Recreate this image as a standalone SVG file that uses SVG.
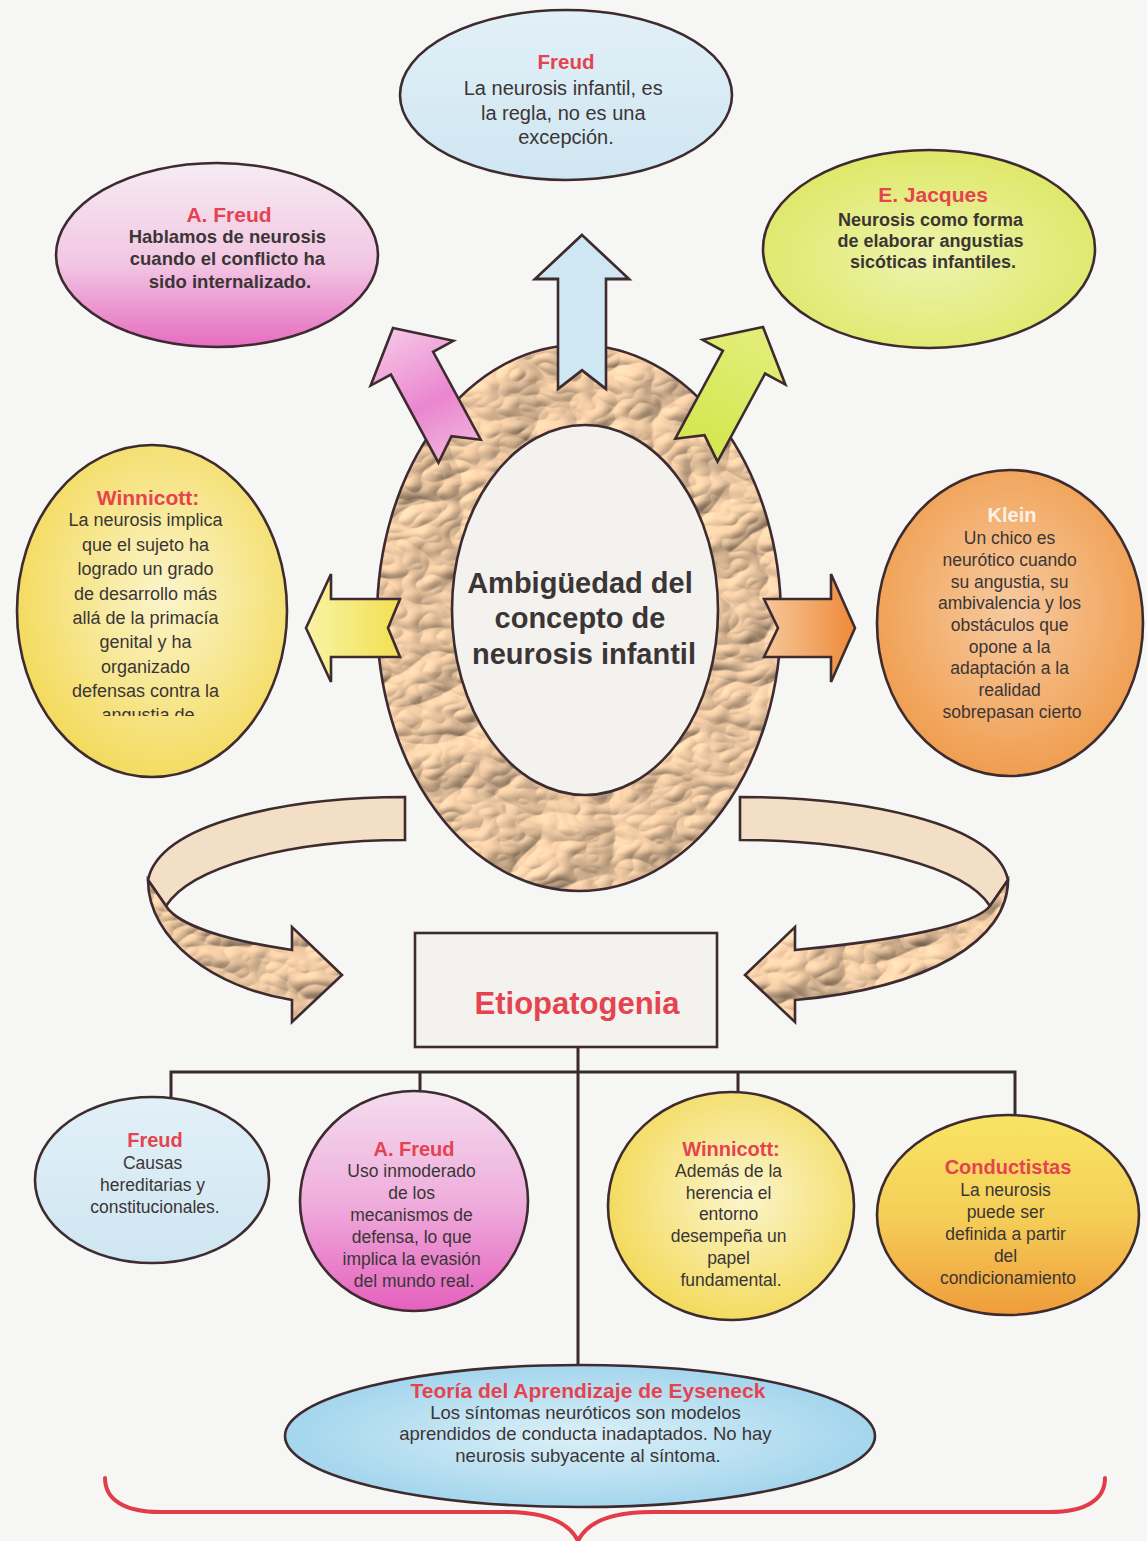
<svg xmlns="http://www.w3.org/2000/svg" width="1147" height="1541" viewBox="0 0 1147 1541">
  <style>
    .ol { stroke: #3d2b30; stroke-width: 2.6; }
    .t { font-family: "Liberation Sans", Arial, sans-serif; text-anchor: middle; fill: #3b3536; }
    .b { font-weight: bold; }
    .ttl { font-family: "Liberation Sans", Arial, sans-serif; text-anchor: middle; font-weight: bold; fill: #e5434f; }
    .wire { stroke: #3a2a2c; stroke-width: 3; fill: none; }
  </style>
  <defs>
    <!-- crumpled paper texture -->
    <filter id="paper" x="-5%" y="-5%" width="110%" height="110%" color-interpolation-filters="sRGB">
      <feTurbulence type="turbulence" baseFrequency="0.013 0.019" numOctaves="3" seed="11" result="noise"/>
      <feDiffuseLighting in="noise" surfaceScale="5.5" diffuseConstant="1.16" lighting-color="#efcaa4" result="lit">
        <feDistantLight azimuth="225" elevation="56"/>
      </feDiffuseLighting>
      <feComposite in="lit" in2="SourceAlpha" operator="in"/>
    </filter>
    <linearGradient id="gBlue" x1="0" y1="0" x2="0" y2="1">
      <stop offset="0" stop-color="#e2f0f7"/><stop offset="1" stop-color="#cfe6f2"/>
    </linearGradient>
    <linearGradient id="gPink" x1="0" y1="0" x2="0" y2="1">
      <stop offset="0" stop-color="#f6ecf3"/><stop offset="0.55" stop-color="#f2c6e3"/><stop offset="1" stop-color="#e66cc0"/>
    </linearGradient>
    <linearGradient id="gPink2" x1="0" y1="0" x2="0" y2="1">
      <stop offset="0" stop-color="#f4dcee"/><stop offset="0.5" stop-color="#efaedd"/><stop offset="1" stop-color="#e560bd"/>
    </linearGradient>
    <radialGradient id="gLime" cx="0.5" cy="0.55" r="0.6">
      <stop offset="0" stop-color="#eef3ac"/><stop offset="1" stop-color="#dde762"/>
    </radialGradient>
    <radialGradient id="gYellow" cx="0.55" cy="0.45" r="0.6">
      <stop offset="0" stop-color="#fbf5cc"/><stop offset="1" stop-color="#f3d957"/>
    </radialGradient>
    <radialGradient id="gOrange" cx="0.5" cy="0.45" r="0.6">
      <stop offset="0" stop-color="#f7caa0"/><stop offset="1" stop-color="#ef9a48"/>
    </radialGradient>
    <linearGradient id="gCond" x1="0" y1="0" x2="0" y2="1">
      <stop offset="0" stop-color="#f8e465"/><stop offset="0.5" stop-color="#f5cf58"/><stop offset="1" stop-color="#ef9c3a"/>
    </linearGradient>
    <radialGradient id="gSky" cx="0.5" cy="0.5" r="0.55">
      <stop offset="0" stop-color="#dcf0f8"/><stop offset="1" stop-color="#9ed3ec"/>
    </radialGradient>
    <linearGradient id="aPink" x1="0" y1="0" x2="0" y2="1">
      <stop offset="0" stop-color="#f5c6e6"/><stop offset="0.6" stop-color="#ea86cf"/><stop offset="1" stop-color="#f0b0dc"/>
    </linearGradient>
    <linearGradient id="aLime" x1="0" y1="0" x2="0" y2="1">
      <stop offset="0" stop-color="#e3ee7a"/><stop offset="1" stop-color="#d3e64e"/>
    </linearGradient>
    <linearGradient id="aYellow" x1="0" y1="0" x2="1" y2="0">
      <stop offset="0" stop-color="#f8f3a4"/><stop offset="1" stop-color="#f2e052"/>
    </linearGradient>
    <linearGradient id="aOrange" x1="0" y1="0" x2="1" y2="0">
      <stop offset="0" stop-color="#f6c79a"/><stop offset="1" stop-color="#ee8a38"/>
    </linearGradient>
    <path id="upArrow" d="M0,0 L47,40 L24,40 L24,140 L0,123 L-24,140 L-24,40 L-47,40 Z"/>
    <clipPath id="winClip"><rect x="0" y="440" width="300" height="276"/></clipPath>
  </defs>

  <rect width="1147" height="1541" fill="#f6f6f4"/>

  <!-- looping ribbon arrows behind the central ring -->
  <g id="loop-left">
    <path class="ol" fill="#f2dfc6" d="M405,797 C290,797 160,822 148,880 L166,906 C190,868 285,840 405,840 Z"/>
    <path fill="#000" filter="url(#paper)" d="M148,880 C148,940 215,988 292,1000 L292,1022 L342,975 L292,927 L292,950 C225,940 178,925 166,906 Z"/>
    <path class="ol" fill="none" d="M148,880 C148,940 215,988 292,1000 L292,1022 L342,975 L292,927 L292,950 C225,940 178,925 166,906 Z"/>
  </g>
  <g id="loop-right">
    <path class="ol" fill="#f2dfc6" d="M740,797 C860,797 996,822 1008,880 L990,906 C966,868 865,840 740,840 Z"/>
    <path fill="#000" filter="url(#paper)" d="M1008,880 C1008,940 930,988 795,1000 L795,1022 L745,975 L795,927 L795,950 C900,940 975,925 990,906 Z"/>
    <path class="ol" fill="none" d="M1008,880 C1008,940 930,988 795,1000 L795,1022 L745,975 L795,927 L795,950 C900,940 975,925 990,906 Z"/>
  </g>

  <!-- central ring -->
  <g id="center">
    <ellipse cx="579" cy="618" rx="202" ry="273" fill="#000" filter="url(#paper)"/>
    <ellipse class="ol" cx="579" cy="618" rx="202" ry="273" fill="none" stroke-width="3"/>
    <ellipse class="ol" cx="585" cy="610" rx="133" ry="185" fill="#f4f2ee" stroke-width="3"/>
    <text class="t b" font-size="29" fill="#3c3032">
      <tspan x="584" y="593">Ambigüedad del</tspan>
      <tspan x="584" y="628">concepto de</tspan>
      <tspan x="584" y="664">neurosis infantil</tspan>
    </text>
  </g>

  <!-- radiating arrows -->
  <g id="arrows">
    <use href="#upArrow" class="ol" fill="url(#aPink)" transform="translate(393,328) rotate(-28.4)"/>
    <use href="#upArrow" class="ol" fill="#cfe7f3" transform="translate(582,235) scale(1,1.1)"/>
    <use href="#upArrow" class="ol" fill="url(#aLime)" transform="translate(763,327) rotate(28.4)"/>
    <path class="ol" fill="url(#aYellow)" d="M306,628 L331,574 L331,599 L400,599 L388,628 L400,657 L331,657 L331,682 Z"/>
    <path class="ol" fill="url(#aOrange)" d="M855,628 L831,574 L831,599 L764,599 L778,628 L764,657 L831,657 L831,682 Z"/>
  </g>

  <!-- upper ring of authors -->
  <g id="freud-top">
    <ellipse class="ol" cx="566" cy="95" rx="166" ry="85" fill="url(#gBlue)"/>
    <text class="ttl" font-size="20.5" x="566" y="69">Freud</text>
    <text class="t" font-size="20">
      <tspan x="566" y="95">La neurosis infantil, es</tspan>
      <tspan x="566" y="120">la regla, no es una</tspan>
      <tspan x="566" y="144">excepción.</tspan>
    </text>
  </g>

  <g id="afreud-top">
    <ellipse class="ol" cx="217" cy="255" rx="161" ry="92" fill="url(#gPink)"/>
    <text class="ttl" font-size="21" x="229" y="222">A. Freud</text>
    <text class="t b" font-size="18.5" fill="#3d2f36">
      <tspan x="230" y="243">Hablamos de neurosis</tspan>
      <tspan x="230" y="265">cuando el conflicto ha</tspan>
      <tspan x="230" y="288">sido internalizado.</tspan>
    </text>
  </g>

  <g id="jacques">
    <ellipse class="ol" cx="929" cy="249" rx="166" ry="99" fill="url(#gLime)"/>
    <text class="ttl" font-size="21" x="933" y="202">E. Jacques</text>
    <text class="t b" font-size="18" fill="#3d3530">
      <tspan x="933" y="226">Neurosis como forma</tspan>
      <tspan x="933" y="247">de elaborar angustias</tspan>
      <tspan x="933" y="268">sicóticas infantiles.</tspan>
    </text>
  </g>

  <g id="winnicott-left">
    <ellipse class="ol" cx="152" cy="611" rx="135" ry="166" fill="url(#gYellow)"/>
    <text class="ttl" font-size="21" x="148" y="505">Winnicott:</text>
    <g clip-path="url(#winClip)">
      <text class="t" font-size="18">
        <tspan x="148" y="526">La neurosis implica</tspan>
        <tspan x="148" y="551">que el sujeto ha</tspan>
        <tspan x="148" y="575">logrado un grado</tspan>
        <tspan x="148" y="600">de desarrollo más</tspan>
        <tspan x="148" y="624">allá de la primacía</tspan>
        <tspan x="148" y="648">genital y ha</tspan>
        <tspan x="148" y="673">organizado</tspan>
        <tspan x="148" y="697">defensas contra la</tspan>
        <tspan x="148" y="721">angustia de</tspan>
      </text>
    </g>
  </g>

  <g id="klein">
    <ellipse class="ol" cx="1010" cy="623" rx="133" ry="153" fill="url(#gOrange)"/>
    <text class="ttl" font-size="20" x="1012" y="522" style="fill:#fbf1e6">Klein</text>
    <text class="t" font-size="17.5" fill="#3d2f2c">
      <tspan x="1012" y="544">Un chico es</tspan>
      <tspan x="1012" y="566">neurótico cuando</tspan>
      <tspan x="1012" y="588">su angustia, su</tspan>
      <tspan x="1012" y="609">ambivalencia y los</tspan>
      <tspan x="1012" y="631">obstáculos que</tspan>
      <tspan x="1012" y="653">opone a la</tspan>
      <tspan x="1012" y="674">adaptación a la</tspan>
      <tspan x="1012" y="696">realidad</tspan>
      <tspan x="1012" y="718">sobrepasan cierto</tspan>
    </text>
  </g>

  <!-- tree below the Etiopatogenia box -->
  <g id="connectors">
    <path class="wire" d="M578,1047 V1365"/>
    <path class="wire" d="M171,1098 V1072 H1015 V1115"/>
    <path class="wire" d="M420,1072 V1092"/>
    <path class="wire" d="M738,1072 V1092"/>
  </g>

  <g id="etiopatogenia">
    <rect class="ol" x="415" y="933" width="302" height="114" fill="#f4f2ef" stroke-width="3"/>
    <text class="ttl" font-size="31" x="577" y="1014">Etiopatogenia</text>
  </g>

  <g id="freud-bottom">
    <ellipse class="ol" cx="152" cy="1180" rx="117" ry="83" fill="url(#gBlue)"/>
    <text class="ttl" font-size="20" x="155" y="1147">Freud</text>
    <text class="t" font-size="17.5">
      <tspan x="155" y="1169">Causas</tspan>
      <tspan x="155" y="1191">hereditarias y</tspan>
      <tspan x="155" y="1213">constitucionales.</tspan>
    </text>
  </g>

  <g id="afreud-bottom">
    <ellipse class="ol" cx="414" cy="1201" rx="114" ry="110" fill="url(#gPink2)"/>
    <text class="ttl" font-size="20" x="414" y="1156">A. Freud</text>
    <text class="t" font-size="17.5">
      <tspan x="414" y="1177">Uso inmoderado</tspan>
      <tspan x="414" y="1199">de los</tspan>
      <tspan x="414" y="1221">mecanismos de</tspan>
      <tspan x="414" y="1243">defensa, lo que</tspan>
      <tspan x="414" y="1265">implica la evasión</tspan>
      <tspan x="414" y="1287">del mundo real.</tspan>
    </text>
  </g>

  <g id="winnicott-bottom">
    <ellipse class="ol" cx="731" cy="1206" rx="123" ry="114" fill="url(#gYellow)"/>
    <text class="ttl" font-size="20" x="731" y="1156">Winnicott:</text>
    <text class="t" font-size="17.5">
      <tspan x="731" y="1177">Además de la</tspan>
      <tspan x="731" y="1199">herencia el</tspan>
      <tspan x="731" y="1220">entorno</tspan>
      <tspan x="731" y="1242">desempeña un</tspan>
      <tspan x="731" y="1264">papel</tspan>
      <tspan x="731" y="1286">fundamental.</tspan>
    </text>
  </g>

  <g id="conductistas">
    <ellipse class="ol" cx="1008" cy="1215" rx="131" ry="100" fill="url(#gCond)"/>
    <text class="ttl" font-size="20" x="1008" y="1174">Conductistas</text>
    <text class="t" font-size="17.5">
      <tspan x="1008" y="1196">La neurosis</tspan>
      <tspan x="1008" y="1218">puede ser</tspan>
      <tspan x="1008" y="1240">definida a partir</tspan>
      <tspan x="1008" y="1262">del</tspan>
      <tspan x="1008" y="1284">condicionamiento</tspan>
    </text>
  </g>

  <g id="eysenck">
    <ellipse class="ol" cx="580" cy="1436" rx="295" ry="71" fill="url(#gSky)"/>
    <text class="ttl" font-size="21" x="588" y="1398">Teoría del Aprendizaje de Eyseneck</text>
    <text class="t" font-size="18.5">
      <tspan x="588" y="1419">Los síntomas neuróticos son modelos</tspan>
      <tspan x="588" y="1440">aprendidos de conducta inadaptados. No hay</tspan>
      <tspan x="588" y="1462">neurosis subyacente al síntoma.</tspan>
    </text>
  </g>

  <!-- closing brace -->
  <g id="brace" fill="none" stroke="#e23c4a" stroke-width="4" stroke-linecap="round">
    <path d="M105,1478 C105,1500 125,1512 160,1512 L505,1512 C548,1512 570,1524 578,1541"/>
    <path d="M1105,1478 C1105,1500 1085,1512 1050,1512 L652,1512 C608,1512 586,1524 578,1541"/>
  </g>
</svg>
